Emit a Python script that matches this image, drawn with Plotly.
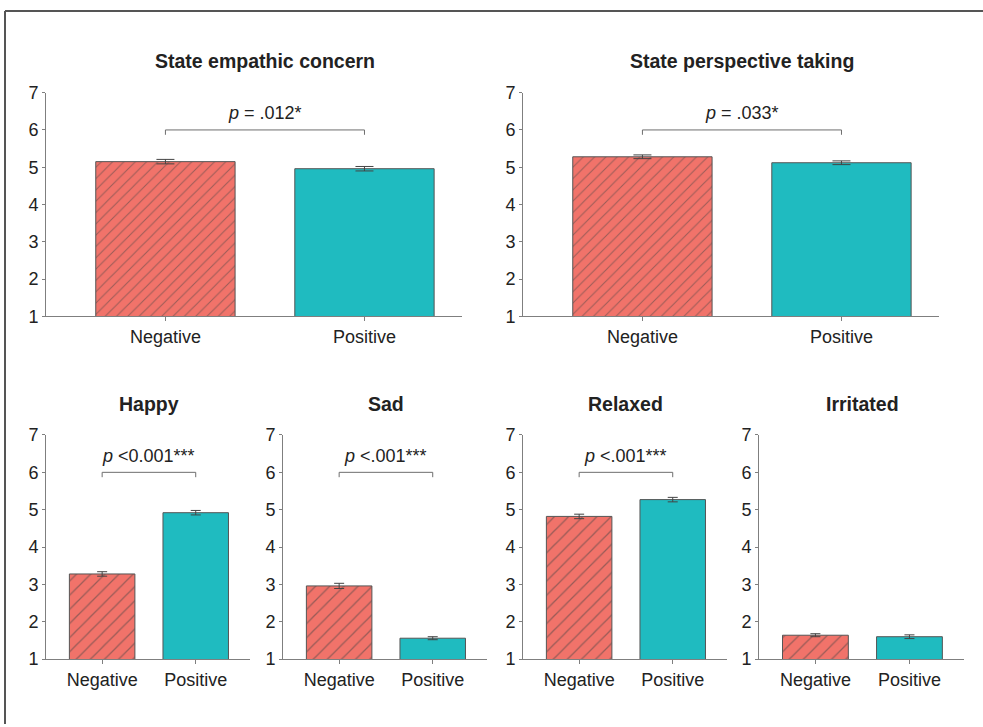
import plotly.graph_objects as go

# ---------------- data ----------------
categories = ["Negative", "Positive"]

titles = ["State empathic concern", "State perspective taking",
          "Happy", "Sad", "Relaxed", "Irritated"]

empathic_means = [5.15, 4.96]
empathic_se = [0.06, 0.06]
perspective_means = [5.28, 5.12]
perspective_se = [0.05, 0.05]
happy_means = [3.28, 4.92]
happy_se = [0.06, 0.06]
sad_means = [2.96, 1.56]
sad_se = [0.07, 0.04]
relaxed_means = [4.82, 5.27]
relaxed_se = [0.06, 0.06]
irritated_means = [1.64, 1.60]
irritated_se = [0.04, 0.05]

p_labels = ["<i>p</i> = .012*", "<i>p</i> = .033*",
            "<i>p</i> <0.001***", "<i>p</i> <.001***", "<i>p</i> <.001***", None]
bracket_top = 6.0
bracket_leg = 5.87
p_label_y = 6.45

y_ticks = [1, 2, 3, 4, 5, 6, 7]

# ---------------- styling / layout ----------------
W, H = 983, 727
RED = "#F1736A"
CYAN = "#1FBBC0"
AXIS = "#7f7f7f"
TXT = "#222222"
FONT = "Liberation Sans, Arial, sans-serif"

means = [empathic_means, perspective_means, happy_means, sad_means, relaxed_means, irritated_means]
ses = [empathic_se, perspective_se, happy_se, sad_se, relaxed_se, irritated_se]

# pixel boxes (left, right, top, bottom) for each panel's plotting area
boxes = [(46, 462, 85, 315), (523, 939, 85, 315),
         (46, 250, 437, 667.5), (283, 487, 437, 667.5),
         (523, 727, 437, 667.5), (759, 964, 437, 667.5)]
xranges = [[-0.6, 1.49]] * 2 + [[-0.6, 1.58]] * 4
hatch_size = [8, 8, 10, 10, 10, 10]
cap_w = [9, 9, 5, 5, 5, 5]
title_px = [52, 52, 405, 405, 405, 405]

fig = go.Figure()
layout_axes = {}
annotations = []

for i in range(6):
    n = i + 1
    xa = "x" if n == 1 else f"x{n}"
    ya = "y" if n == 1 else f"y{n}"
    l, r, t, b = boxes[i]
    fig.add_trace(go.Bar(
        x=categories, y=means[i], xaxis=xa, yaxis=ya,
        width=0.70,
        marker=dict(color=[RED, CYAN],
                    line=dict(color="#555555", width=1),
                    pattern=dict(shape=["/", ""], fgcolor="#222222",
                                 size=hatch_size[i], solidity=0.13)),
        error_y=dict(type="data", array=ses[i], color="#444444",
                     thickness=1, width=cap_w[i]),
        showlegend=False, hoverinfo="skip",
    ))
    if p_labels[i]:
        fig.add_trace(go.Scatter(
            x=[categories[0], categories[0], categories[1], categories[1]],
            y=[bracket_leg, bracket_top, bracket_top, bracket_leg],
            xaxis=xa, yaxis=ya, mode="lines",
            line=dict(color="#6e6e6e", width=1),
            showlegend=False, hoverinfo="skip",
        ))
        annotations.append(dict(
            x=0.5, y=p_label_y, xref=xa, yref=ya, text=p_labels[i],
            showarrow=False, font=dict(size=18, color=TXT, family=FONT),
            xanchor="center", yanchor="middle"))
    annotations.append(dict(
        x=0.5, y=1 - title_px[i] / H, xref=xa, yref="paper",
        text=f"<b>{titles[i]}</b>", showarrow=False,
        font=dict(size=19.5, color=TXT, family=FONT),
        xanchor="center", yanchor="middle"))

    xkey = "xaxis" if n == 1 else f"xaxis{n}"
    ykey = "yaxis" if n == 1 else f"yaxis{n}"
    layout_axes[xkey] = dict(
        domain=[l / W, r / W], anchor=ya, range=xranges[i],
        type="category", showline=True, linecolor=AXIS, linewidth=1,
        ticks="outside", ticklen=4, tickcolor=AXIS, showgrid=False,
        zeroline=False, tickfont=dict(size=18, color=TXT, family=FONT),
        fixedrange=True)
    layout_axes[ykey] = dict(
        domain=[1 - b / H, 1 - t / H], anchor=xa, range=[1, 7],
        tickvals=y_ticks, showline=True, linecolor=AXIS, linewidth=1,
        ticks="outside", ticklen=3, tickcolor=AXIS, showgrid=False,
        zeroline=False, tickfont=dict(size=18, color=TXT, family=FONT),
        fixedrange=True)

# outer frame (top and left edges visible)
shapes = [
    dict(type="line", xref="paper", yref="paper", x0=5 / W, x1=1.01, y0=1 - 1 / H, y1=1 - 1 / H,
         line=dict(color="#555555", width=2)),
    dict(type="line", xref="paper", yref="paper", x0=5 / W, x1=5 / W, y0=1 - 1 / H, y1=-0.01,
         line=dict(color="#555555", width=2)),
]

fig.update_layout(
    width=W, height=H, margin=dict(l=0, r=0, t=0, b=0),
    paper_bgcolor="white", plot_bgcolor="white",
    font=dict(family=FONT, color=TXT),
    annotations=annotations, shapes=shapes, bargap=0.3,
    **layout_axes,
)

post = (
    "var gd=document.getElementById('{plot_id}');"
    "gd.style.position='absolute';gd.style.left='0px';gd.style.top='0px';"
    "document.documentElement.style.margin='0';document.documentElement.style.padding='0';"
    "document.documentElement.style.overflow='hidden';"
    "document.body.style.margin='0';document.body.style.padding='0';"
    "document.body.style.overflow='hidden';"
)

fig.write_html("out.html", config={"displayModeBar": False}, post_script=post)
